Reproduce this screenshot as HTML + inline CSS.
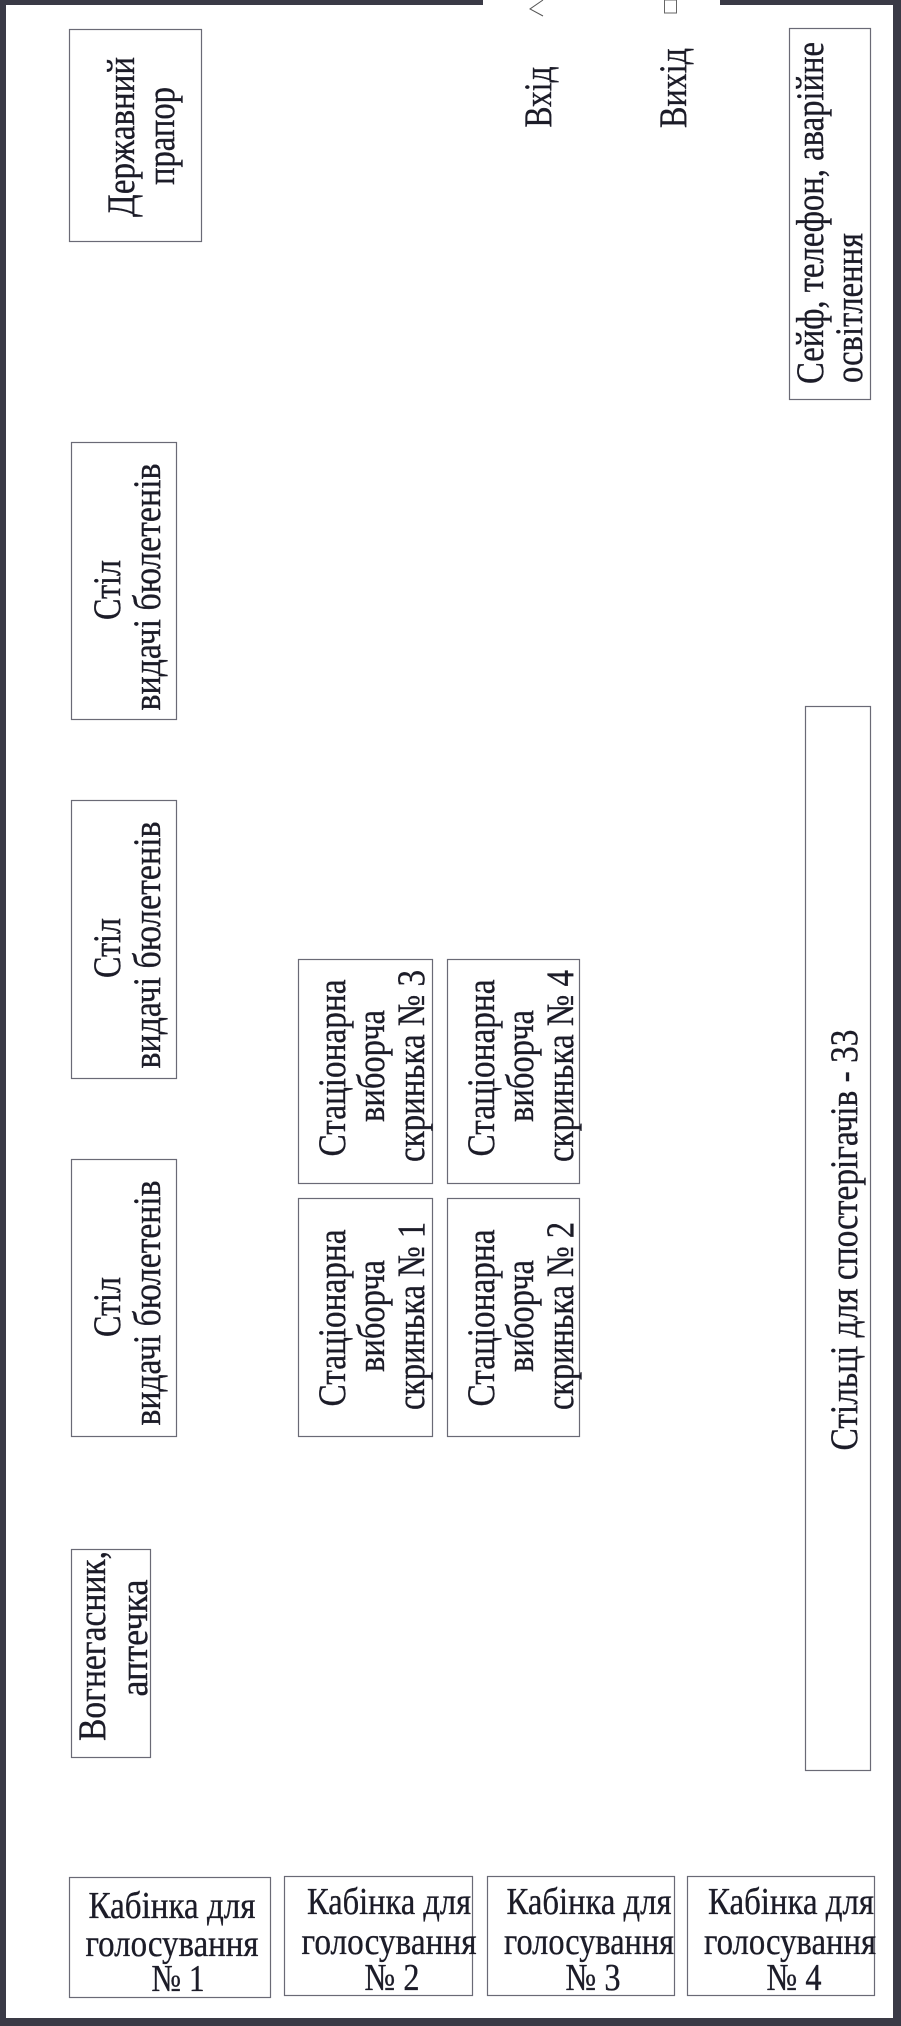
<!DOCTYPE html>
<html><head><meta charset="utf-8"><style>
html,body{margin:0;padding:0;background:#fff;}
svg{display:block;}
text{font-family:"Liberation Serif",serif;fill:#1c1c28;stroke:#1c1c28;stroke-width:0.35;}
</style></head><body>
<svg width="901" height="2026" viewBox="0 0 901 2026" xmlns="http://www.w3.org/2000/svg">
<rect x="0" y="0" width="901" height="2026" fill="#fff"/>
<rect x="0" y="0" width="483" height="5" fill="#3a3a46"/>
<rect x="720" y="0" width="181" height="5" fill="#3a3a46"/>
<rect x="0" y="0" width="6" height="2026" fill="#3a3a46"/>
<rect x="893" y="0" width="8" height="2026" fill="#3a3a46"/>
<rect x="0" y="2018" width="901" height="8" fill="#3a3a46"/>
<polyline points="543,0 530,9 543,16" fill="none" stroke="#555" stroke-width="1"/>
<rect x="664.5" y="0" width="12" height="13" fill="none" stroke="#666" stroke-width="1"/>

<g fill="none" stroke="#6a6a76" stroke-width="1.2">
<rect x="69.5" y="29.5" width="132" height="212"/>
<rect x="789.5" y="28.5" width="81" height="371"/>
<rect x="71.5" y="442.5" width="105" height="277"/>
<rect x="71.5" y="800.5" width="105" height="278"/>
<rect x="71.5" y="1159.5" width="105" height="277"/>
<rect x="71.5" y="1549.5" width="79" height="208"/>
<rect x="298.5" y="959.5" width="134" height="224"/>
<rect x="447.5" y="959.5" width="132" height="224"/>
<rect x="298.5" y="1198.5" width="134" height="238"/>
<rect x="447.5" y="1198.5" width="132" height="238"/>
<rect x="805.5" y="706.5" width="65" height="1064"/>
<rect x="69.5" y="1877.5" width="201" height="120"/>
<rect x="284.5" y="1876.5" width="188" height="119"/>
<rect x="487.5" y="1876.5" width="187" height="119"/>
<rect x="687.5" y="1876.5" width="187" height="119"/>
</g>

<g font-size="39" text-anchor="middle">
<text transform="translate(134,137) rotate(-90)" textLength="160" lengthAdjust="spacingAndGlyphs">Державний</text>
<text transform="translate(174,136) rotate(-90)" textLength="98" lengthAdjust="spacingAndGlyphs">прапор</text>
<text transform="translate(551,97) rotate(-90)" textLength="61" lengthAdjust="spacingAndGlyphs">Вхід</text>
<text transform="translate(686,88) rotate(-90)" textLength="80" lengthAdjust="spacingAndGlyphs">Вихід</text>
<text transform="translate(823,213) rotate(-90)" textLength="342" lengthAdjust="spacingAndGlyphs">Сейф, телефон, аварійне</text>
<text transform="translate(862,308) rotate(-90)" textLength="150" lengthAdjust="spacingAndGlyphs">освітлення</text>
<text transform="translate(120,590) rotate(-90)" textLength="60" lengthAdjust="spacingAndGlyphs">Стіл</text>
<text transform="translate(160,587) rotate(-90)" textLength="247" lengthAdjust="spacingAndGlyphs">видачі бюлетенів</text>
<text transform="translate(120,948) rotate(-90)" textLength="60" lengthAdjust="spacingAndGlyphs">Стіл</text>
<text transform="translate(160,945) rotate(-90)" textLength="247" lengthAdjust="spacingAndGlyphs">видачі бюлетенів</text>
<text transform="translate(120,1307) rotate(-90)" textLength="60" lengthAdjust="spacingAndGlyphs">Стіл</text>
<text transform="translate(160,1303) rotate(-90)" textLength="245" lengthAdjust="spacingAndGlyphs">видачі бюлетенів</text>
<text transform="translate(105,1646) rotate(-90)" textLength="190" lengthAdjust="spacingAndGlyphs">Вогнегасник,</text>
<text transform="translate(147,1638) rotate(-90)" textLength="117" lengthAdjust="spacingAndGlyphs">аптечка</text>
<text transform="translate(345,1068) rotate(-90)" textLength="177" lengthAdjust="spacingAndGlyphs">Стаціонарна</text>
<text transform="translate(384,1066) rotate(-90)" textLength="112" lengthAdjust="spacingAndGlyphs">виборча</text>
<text transform="translate(424,1066) rotate(-90)" textLength="192" lengthAdjust="spacingAndGlyphs">скринька № 3</text>
<text transform="translate(494,1068) rotate(-90)" textLength="177" lengthAdjust="spacingAndGlyphs">Стаціонарна</text>
<text transform="translate(533,1066) rotate(-90)" textLength="112" lengthAdjust="spacingAndGlyphs">виборча</text>
<text transform="translate(573,1066) rotate(-90)" textLength="192" lengthAdjust="spacingAndGlyphs">скринька № 4</text>
<text transform="translate(345,1318) rotate(-90)" textLength="177" lengthAdjust="spacingAndGlyphs">Стаціонарна</text>
<text transform="translate(384,1316) rotate(-90)" textLength="112" lengthAdjust="spacingAndGlyphs">виборча</text>
<text transform="translate(424,1316) rotate(-90)" textLength="188" lengthAdjust="spacingAndGlyphs">скринька № 1</text>
<text transform="translate(494,1318) rotate(-90)" textLength="177" lengthAdjust="spacingAndGlyphs">Стаціонарна</text>
<text transform="translate(533,1316) rotate(-90)" textLength="112" lengthAdjust="spacingAndGlyphs">виборча</text>
<text transform="translate(573,1316) rotate(-90)" textLength="188" lengthAdjust="spacingAndGlyphs">скринька № 2</text>
<text transform="translate(857,1240) rotate(-90)" textLength="421" lengthAdjust="spacingAndGlyphs">Стільці для спостерігачів - 33</text>
</g>

<g font-size="38" text-anchor="middle">
<text x="172" y="1918" textLength="167" lengthAdjust="spacingAndGlyphs">Кабінка для</text>
<text x="172" y="1956" textLength="173" lengthAdjust="spacingAndGlyphs">голосування</text>
<text x="178" y="1991" textLength="53" lengthAdjust="spacingAndGlyphs">№ 1</text>
<text x="389" y="1914" textLength="164" lengthAdjust="spacingAndGlyphs">Кабінка для</text>
<text x="389" y="1954" textLength="175" lengthAdjust="spacingAndGlyphs">голосування</text>
<text x="392" y="1990" textLength="55" lengthAdjust="spacingAndGlyphs">№ 2</text>
<text x="589" y="1914" textLength="165" lengthAdjust="spacingAndGlyphs">Кабінка для</text>
<text x="589" y="1954" textLength="170" lengthAdjust="spacingAndGlyphs">голосування</text>
<text x="593" y="1990" textLength="55" lengthAdjust="spacingAndGlyphs">№ 3</text>
<text x="791" y="1914" textLength="166" lengthAdjust="spacingAndGlyphs">Кабінка для</text>
<text x="790" y="1954" textLength="172" lengthAdjust="spacingAndGlyphs">голосування</text>
<text x="794" y="1990" textLength="55" lengthAdjust="spacingAndGlyphs">№ 4</text>
</g>
</svg>
</body></html>
